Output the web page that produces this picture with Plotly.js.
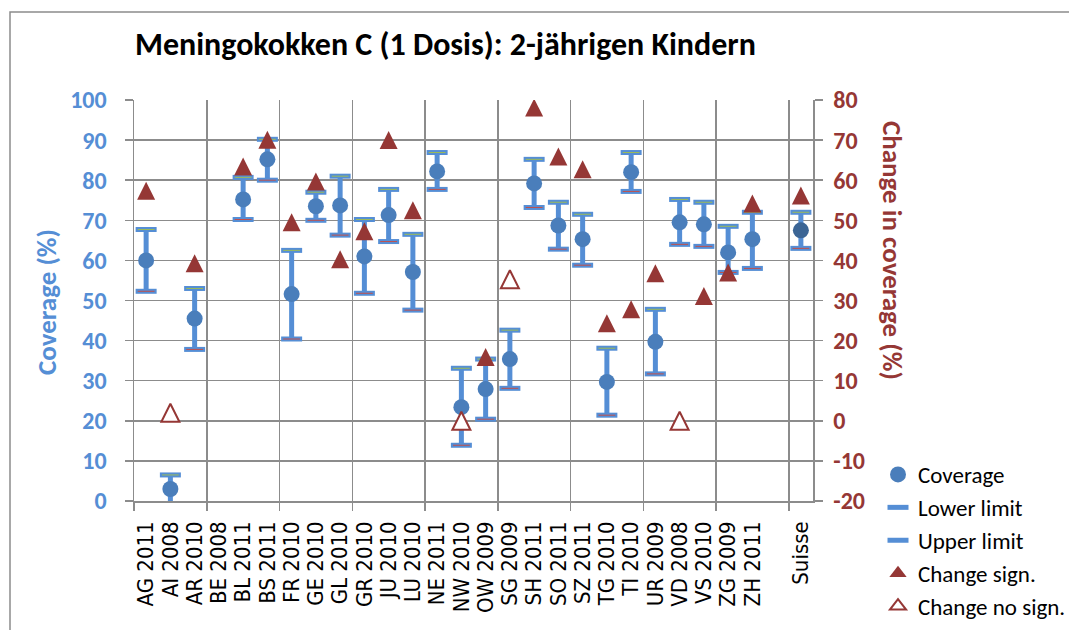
<!DOCTYPE html>
<html>
<head>
<meta charset="utf-8">
<script src="https://cdn.plot.ly/plotly-3.0.1.min.js"></script>
<style>
html,body{margin:0;padding:0;background:#ffffff;}
#chart{width:1069px;height:630px;}
</style>
</head>
<body>
<div id="chart"></div>
<script>
// ---- data ----
const categories = ['AG 2011','AI 2008','AR 2010','BE 2008','BL 2011','BS 2011','FR 2010','GE 2010','GL 2010','GR 2010','JU 2010','LU 2010','NE 2011','NW 2010','OW 2009','SG 2009','SH 2011','SO 2011','SZ 2011','TG 2010','TI 2010','UR 2009','VD 2008','VS 2010','ZG 2009','ZH 2011','','Suisse'];
const coverage   = [60.0, 3.0, 45.5, null, 75.2, 85.2, 51.6, 73.5, 73.7, 61.0, 71.3, 57.1, 82.2, 23.4, 27.9, 35.4, 79.2, 68.7, 65.3, 29.7, 82.0, 39.7, 69.5, 69.0, 62.0, 65.3, null, 67.5];
const lowerLimit = [52.3, -2.0, 37.8, null, 70.2, 80.0, 40.4, 70.0, 66.3, 51.8, 64.7, 47.6, 77.7, 13.9, 20.4, 28.1, 73.2, 62.8, 58.8, 21.4, 77.2, 31.7, 64.0, 63.5, 57.0, 58.0, null, 63.0];
const upperLimit = [67.7, 6.5, 53.0, null, 80.7, 90.2, 62.5, 77.0, 81.0, 70.2, 77.7, 66.5, 86.9, 33.1, 35.4, 42.6, 85.2, 74.5, 71.5, 38.1, 86.9, 47.8, 75.2, 74.5, 68.5, 72.0, null, 72.0];
const changeSign   = [57.4, null, 39.3, null, 63.4, 70.1, 49.5, 59.7, 40.3, 47.3, 70.0, 52.5, null, null, 15.9, null, 78.1, 65.9, 62.7, 24.3, 27.8, 36.8, null, 31.1, 37.0, 54.2, null, 56.2];
const changeNoSign = [null, 2.0, null, null, null, null, null, null, null, null, null, null, null, 0.0, null, 35.3, null, null, null, null, null, null, 0.0, null, null, null, null, null];
const leftTicks  = [0,10,20,30,40,50,60,70,80,90,100];
const rightTicks = [-20,-10,0,10,20,30,40,50,60,70,80];

// ---- styles ----
const CAL = 'Carlito, Lato, "Open Sans", sans-serif';
const XFONT = '"DejaVu Sans Condensed", "DejaVu Sans", sans-serif';
const GRID = '#8c8c8c';
const BLUE_TXT = '#558ED5';
const RED = '#953735';
const BAR = '#558ED5';

const xpos = categories.map((c, i) => i + 0.5);
const errPlus  = coverage.map((v, i) => (v == null || upperLimit[i] == null) ? null : upperLimit[i] - v);
const errMinus = coverage.map((v, i) => (v == null || lowerLimit[i] == null) ? null : v - lowerLimit[i]);
const covColors = categories.map(c => c === 'Suisse' ? '#3b6595' : '#4a7ebb');

const traces = [
  { // vertical interval bars
    x: xpos, y: coverage, type: 'scatter', mode: 'markers',
    marker: {size: 2, opacity: 0},
    error_y: {type: 'data', symmetric: false, array: errPlus, arrayminus: errMinus,
              color: BAR, thickness: 5, width: 0},
    showlegend: false, hoverinfo: 'skip'
  },
  {
    name: 'Lower limit', legendrank: 2,
    x: xpos, y: lowerLimit, type: 'scatter', mode: 'markers',
    marker: {symbol: 'line-ew', size: 15, color: BAR, line: {width: 5, color: BAR}}
  },
  {
    x: xpos, y: lowerLimit, type: 'scatter', mode: 'markers', showlegend: false, hoverinfo: 'skip',
    marker: {symbol: 'line-ew', size: 12, color: '#c0504d', line: {width: 1, color: '#c0504d'}}
  },
  {
    name: 'Upper limit', legendrank: 3,
    x: xpos, y: upperLimit, type: 'scatter', mode: 'markers',
    marker: {symbol: 'line-ew', size: 15, color: BAR, line: {width: 5, color: BAR}}
  },
  {
    x: xpos, y: upperLimit, type: 'scatter', mode: 'markers', showlegend: false, hoverinfo: 'skip',
    marker: {symbol: 'line-ew', size: 12, color: '#9bbb59', line: {width: 1, color: '#9bbb59'}}
  },
  {
    name: 'Coverage', legendrank: 1,
    x: xpos, y: coverage, type: 'scatter', mode: 'markers',
    marker: {symbol: 'circle', size: 16, color: covColors, line: {width: 0}}
  },
  {
    name: 'Change sign.', showlegend: false,
    x: xpos, y: changeSign, yaxis: 'y2', type: 'scatter', mode: 'markers',
    marker: {symbol: 'arrow-down', angle: 180, standoff: 9, size: 18, color: RED, line: {width: 0}}
  },
  {
    name: 'Change no sign.', showlegend: false,
    x: xpos, y: changeNoSign, yaxis: 'y2', type: 'scatter', mode: 'markers',
    marker: {symbol: 'arrow-down', angle: 180, standoff: 9, size: 18, color: '#ffffff', line: {width: 2, color: RED}}
  },
  // legend entries for the two triangle series
  {
    name: 'Change sign.', legendrank: 4, x: [null], y: [null], yaxis: 'y2', type: 'scatter', mode: 'markers',
    marker: {symbol: 'triangle-up', size: 15, color: RED, line: {width: 0}}
  },
  {
    name: 'Change no sign.', legendrank: 5, x: [null], y: [null], yaxis: 'y2', type: 'scatter', mode: 'markers',
    marker: {symbol: 'triangle-up', size: 14, color: '#ffffff', line: {width: 2, color: RED}}
  }
];

const plotL = 134, plotR = 813, plotT = 100, plotB = 501;
const pw = plotR - plotL, ph = plotB - plotT;
const px = v => (v - plotL) / pw;
const py = v => (plotB - v) / ph;

const layout = {
  width: 1069, height: 630,
  margin: {l: plotL, r: 1069 - plotR, t: plotT, b: 630 - plotB, pad: 0, autoexpand: false},
  paper_bgcolor: '#ffffff', plot_bgcolor: '#ffffff',
  title: {
    text: 'Meningokokken C (1 Dosis): 2-jährigen Kindern',
    font: {family: CAL, size: 32, color: '#000000', weight: 'bold'},
    xref: 'container', x: 135 / 1069, xanchor: 'left',
    yref: 'container', y: 1 - 44 / 630, yanchor: 'middle'
  },
  xaxis: {
    range: [0, categories.length], tickmode: 'array', tickvals: xpos, ticktext: categories,
    tickangle: -90, ticks: '', showgrid: false, zeroline: false,
    showline: true, linecolor: GRID, linewidth: 1.5,
    tickfont: {family: XFONT, size: 22, color: '#000000'},
    ticklabelstandoff: 10,
    minor: {tickmode: 'linear', tick0: 0, dtick: 3, showgrid: true, gridcolor: GRID, gridwidth: 1.5,
            ticks: 'outside', ticklen: 8, tickcolor: GRID, tickwidth: 1.5},
    fixedrange: true
  },
  yaxis: {
    range: [0, 100], tickmode: 'array', tickvals: leftTicks, ticktext: leftTicks.map(String),
    ticks: 'outside', ticklen: 8, tickcolor: GRID, tickwidth: 1.5,
    showgrid: true, gridcolor: GRID, gridwidth: 1.5,
    showline: true, linecolor: GRID, linewidth: 1.5, zeroline: false,
    tickfont: {family: CAL, size: 24, color: BLUE_TXT, weight: 'bold'},
    ticklabelstandoff: 13, fixedrange: true
  },
  yaxis2: {
    overlaying: 'y', side: 'right',
    range: [-20, 80], tickmode: 'array', tickvals: rightTicks, ticktext: rightTicks.map(String),
    ticks: 'outside', ticklen: 8, tickcolor: GRID, tickwidth: 1.5,
    showgrid: false, showline: true, linecolor: GRID, linewidth: 1.5, zeroline: false,
    tickfont: {family: CAL, size: 24, color: RED, weight: 'bold'},
    ticklabelstandoff: 6, fixedrange: true
  },
  legend: {
    x: px(878), xanchor: 'left', y: py(453), yanchor: 'top',
    font: {family: CAL, size: 23, color: '#000000'},
    bgcolor: 'rgba(0,0,0,0)', borderwidth: 0, traceorder: 'normal'
  },
  annotations: [
    {text: 'Coverage (%)', xref: 'paper', yref: 'paper', x: px(46), y: py(302),
     xanchor: 'center', yanchor: 'middle', textangle: -90, showarrow: false,
     font: {family: CAL, size: 27, color: BLUE_TXT, weight: 'bold'}},
    {text: 'Change in coverage (%)', xref: 'paper', yref: 'paper', x: px(893), y: py(250),
     xanchor: 'center', yanchor: 'middle', textangle: 90, showarrow: false,
     font: {family: CAL, size: 27, color: RED, weight: 'bold'}}
  ],
  shapes: [
    {type: 'rect', xref: 'paper', yref: 'paper', layer: 'below',
     x0: px(10), x1: px(1080), y0: py(640), y1: py(12),
     line: {color: '#8c8c8c', width: 1.5}, fillcolor: 'rgba(0,0,0,0)'}
  ]
};

Plotly.newPlot('chart', traces, layout, {displayModeBar: false, staticPlot: true});
</script>
</body>
</html>
